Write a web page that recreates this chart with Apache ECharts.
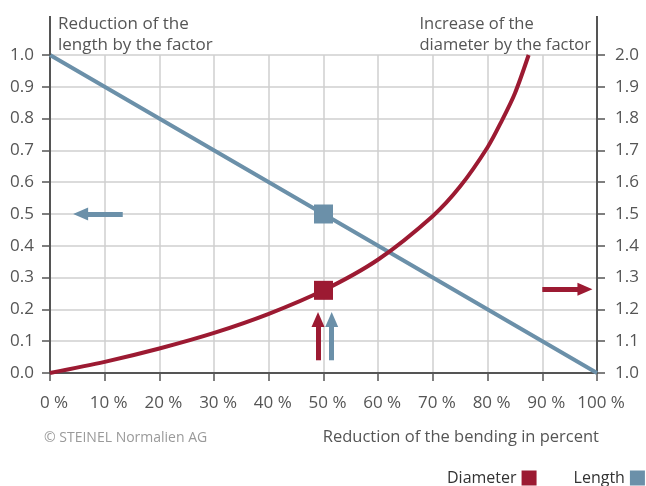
<!DOCTYPE html>
<html><head><meta charset="utf-8">
<script src="https://cdn.jsdelivr.net/npm/echarts@6/dist/echarts.min.js"></script>
<style>html,body{margin:0;padding:0;background:#fff}#c{width:646px;height:486px}</style>
</head><body><div id="c"></div>
<script>
// Length: reduction factor (left axis)
const lengthX = [0, 50, 100];
const lengthY = [1.0, 0.5, 0.0];
// Diameter: increase factor (right axis)
const diamX = [0, 10, 20, 30, 40, 50, 60, 70, 75, 80, 82.5, 85, 87.5];
const diamY = [1.0, 1.035, 1.077, 1.126, 1.186, 1.26, 1.357, 1.494, 1.587, 1.71, 1.79, 1.88, 2.0];
// Highlighted points at 50 %
const markLength = [50, 0.5];
const markDiam = [50, 1.26];
const seriesNames = ['Diameter', 'Length'];
const leftTitle = 'Reduction of the\nlength by the factor';
const rightTitle = 'Increase of the\ndiameter by the factor';
const xTitle = 'Reduction of the bending in percent';
const copyright = '\u00A9 STEINEL Normalien AG';

const RED = '#9c1a32', BLUE = '#6b90a9', AX = '#555', GRID = '#cfcfcf';
const FONT = '"Open Sans", "Noto Sans", sans-serif';

const chart = echarts.init(document.getElementById('c'), null, {renderer: 'canvas'});
const arrowLine = (pts, color) => ({
  symbol: ['none', 'triangle'], symbolSize: [13, 15],
  lineStyle: {color: color, width: 5, type: 'solid'},
  label: {show: false},
  data: pts.map(p => [{coord: p[0]}, {coord: p[1]}])
});

chart.setOption({
  animation: false,
  textStyle: {fontFamily: FONT},
  grid: {left: 50, right: 49, top: 55, bottom: 113, containLabel: false},
  legend: {
    left: 447, top: 470, padding: 0, align: 'right', itemWidth: 15, itemHeight: 15, itemGap: 37,
    icon: 'rect', textStyle: {fontSize: 16, color: '#333', fontFamily: FONT},
    data: seriesNames
  },
  xAxis: {
    type: 'value', min: 0, max: 100, interval: 10,
    axisLine: {lineStyle: {color: AX, width: 2}},
    axisTick: {length: 8, lineStyle: {color: AX, width: 1.5}},
    axisLabel: {formatter: v => v + ' %', fontSize: 17, color: '#555', margin: 22, padding: [0, 0, 0, 8], fontFamily: FONT},
    splitLine: {show: true, lineStyle: {color: GRID, width: 1.5}}
  },
  yAxis: [{
    type: 'value', min: 0, max: 1, interval: 0.1, position: 'left',
    axisLine: {show: true, lineStyle: {color: AX, width: 2}},
    axisTick: {show: true, length: 8, lineStyle: {color: AX, width: 1.5}},
    axisLabel: {formatter: v => v.toFixed(1), fontSize: 17, color: '#555', margin: 16, fontFamily: FONT},
    splitLine: {show: true, lineStyle: {color: GRID, width: 1.5}}
  }, {
    type: 'value', min: 1, max: 2, interval: 0.1, position: 'right',
    axisLine: {show: true, lineStyle: {color: AX, width: 2}},
    axisTick: {show: true, length: 8, lineStyle: {color: AX, width: 1.5}},
    axisLabel: {formatter: v => v.toFixed(1), fontSize: 17, color: '#555', margin: 18, fontFamily: FONT},
    splitLine: {show: false}
  }],
  series: [{
    name: 'Length', type: 'line', yAxisIndex: 0, symbol: 'none',
    color: BLUE, lineStyle: {color: BLUE, width: 4},
    data: lengthX.map((x, i) => [x, lengthY[i]]), z: 3
  }, {
    name: 'Diameter', type: 'line', yAxisIndex: 1, symbol: 'none', smooth: 0.3,
    color: RED, lineStyle: {color: RED, width: 4},
    data: diamX.map((x, i) => [x, diamY[i]]), z: 3
  }, {
    type: 'scatter', yAxisIndex: 0, symbol: 'rect', symbolSize: 19,
    itemStyle: {color: BLUE, opacity: 1}, data: [markLength], z: 5, silent: true
  }, {
    type: 'scatter', yAxisIndex: 1, symbol: 'rect', symbolSize: 19,
    itemStyle: {color: RED, opacity: 1}, data: [markDiam], z: 5, silent: true
  }, {
    type: 'line', yAxisIndex: 0, data: [], silent: true,
    markLine: arrowLine([[[49.0, 0.04], [49.0, 0.168]], [[90, 0.263], [97.8, 0.263]]], RED)
  }, {
    type: 'line', yAxisIndex: 0, data: [], silent: true,
    markLine: arrowLine([[[51.5, 0.04], [51.5, 0.168]], [[13.3, 0.5], [5.6, 0.5]]], BLUE)
  }]
});

const x0 = chart.convertToPixel({xAxisIndex: 0}, 0);
const x1 = chart.convertToPixel({xAxisIndex: 0}, 100);
const yTop = chart.convertToPixel({yAxisIndex: 0}, 1);
chart.setOption({
  graphic: [
    {type: 'line', shape: {x1: x0, y1: 16, x2: x0, y2: yTop}, style: {stroke: AX, lineWidth: 2}, z: 10},
    {type: 'line', shape: {x1: x1, y1: 16, x2: x1, y2: yTop}, style: {stroke: AX, lineWidth: 2}, z: 10},
    {type: 'text', left: 58, top: 14, style: {text: leftTitle, font: '17px ' + FONT, fill: '#555', lineHeight: 21}},
    {type: 'text', right: 55, top: 14, style: {text: rightTitle, font: '16.5px ' + FONT, fill: '#555', lineHeight: 21, align: 'right'}},
    {type: 'text', left: 44, top: 431, style: {text: copyright, font: '14px ' + FONT, fill: '#9a9a9a'}},
    {type: 'text', right: 47, top: 429, style: {text: xTitle, font: '16.5px ' + FONT, fill: '#555'}}
  ]
});
</script></body></html>
